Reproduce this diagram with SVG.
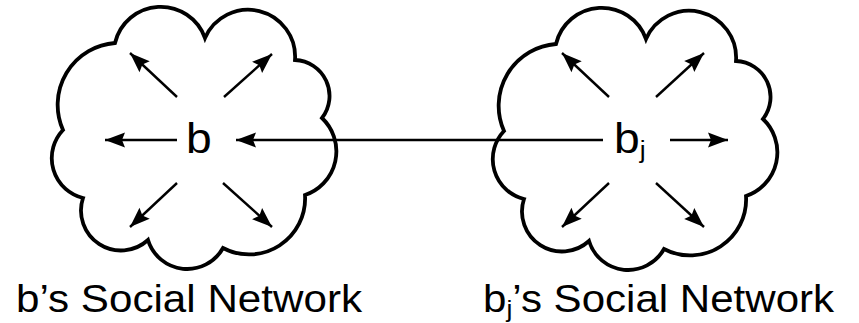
<svg xmlns="http://www.w3.org/2000/svg" width="859" height="323" viewBox="0 0 859 323">
<style>
.cloud{fill:#fff;stroke:#000;stroke-width:3.8;stroke-linejoin:miter}
.arr{stroke:#000;stroke-width:2.4;fill:none;marker-end:url(#ah)}
.t{font-family:"Liberation Sans",Arial,sans-serif;fill:#000}
</style>
<defs>
<marker id="ah" markerUnits="userSpaceOnUse" markerWidth="22" markerHeight="16" viewBox="0 -8 21 16" refX="20" refY="0" orient="auto">
<path d="M0,-7.5 L20,0 L0,7.5 L3,0 z" fill="#000"/>
</marker>
<path id="cloudShape" d="M115,43 A47,47 0 0 1 205,38 A47,47 0 0 1 295,60 A36,36 0 0 1 322,118 A46,46 0 0 1 305,195 A56,56 0 0 1 223,248 A41,41 0 0 1 148,240 A40,40 0 0 1 83,198 A41,41 0 0 1 63,130 A62,62 0 0 1 115,43 z"/>
</defs>
<g id="node-b">
<use href="#cloudShape" class="cloud"/>
<text class="t" font-size="42" transform="translate(186,153) scale(1.1,1)">b</text>
</g>
<g id="node-bj">
<use href="#cloudShape" class="cloud" transform="translate(441,1)"/>
<text class="t" font-size="42" transform="translate(614,153) scale(1.1,1)">b<tspan font-size="24" dy="5">j</tspan></text>
</g>
<g id="connectors">
<line class="arr" x1="177" y1="97" x2="130" y2="53"/>
<line class="arr" x1="224" y1="97" x2="272" y2="54"/>
<line class="arr" x1="177" y1="140" x2="105" y2="140"/>
<line class="arr" x1="177" y1="183" x2="130" y2="227"/>
<line class="arr" x1="223" y1="183" x2="272" y2="227"/>
<line class="arr" x1="603" y1="140" x2="236" y2="140"/>
<line class="arr" x1="609" y1="97" x2="562" y2="53"/>
<line class="arr" x1="656" y1="97" x2="704" y2="53"/>
<line class="arr" x1="670" y1="140" x2="728" y2="140"/>
<line class="arr" x1="609" y1="183" x2="562" y2="227"/>
<line class="arr" x1="656" y1="183" x2="704" y2="227"/>
</g>
<g id="labels">
<text class="t" font-size="38" transform="translate(16,312) scale(1.11,1)">b’s Social Network</text>
<text class="t" font-size="38" transform="translate(483,312) scale(1.107,1)">b<tspan font-size="24" dy="5">j</tspan><tspan dy="-5">’s Social Network</tspan></text>
</g>
</svg>
